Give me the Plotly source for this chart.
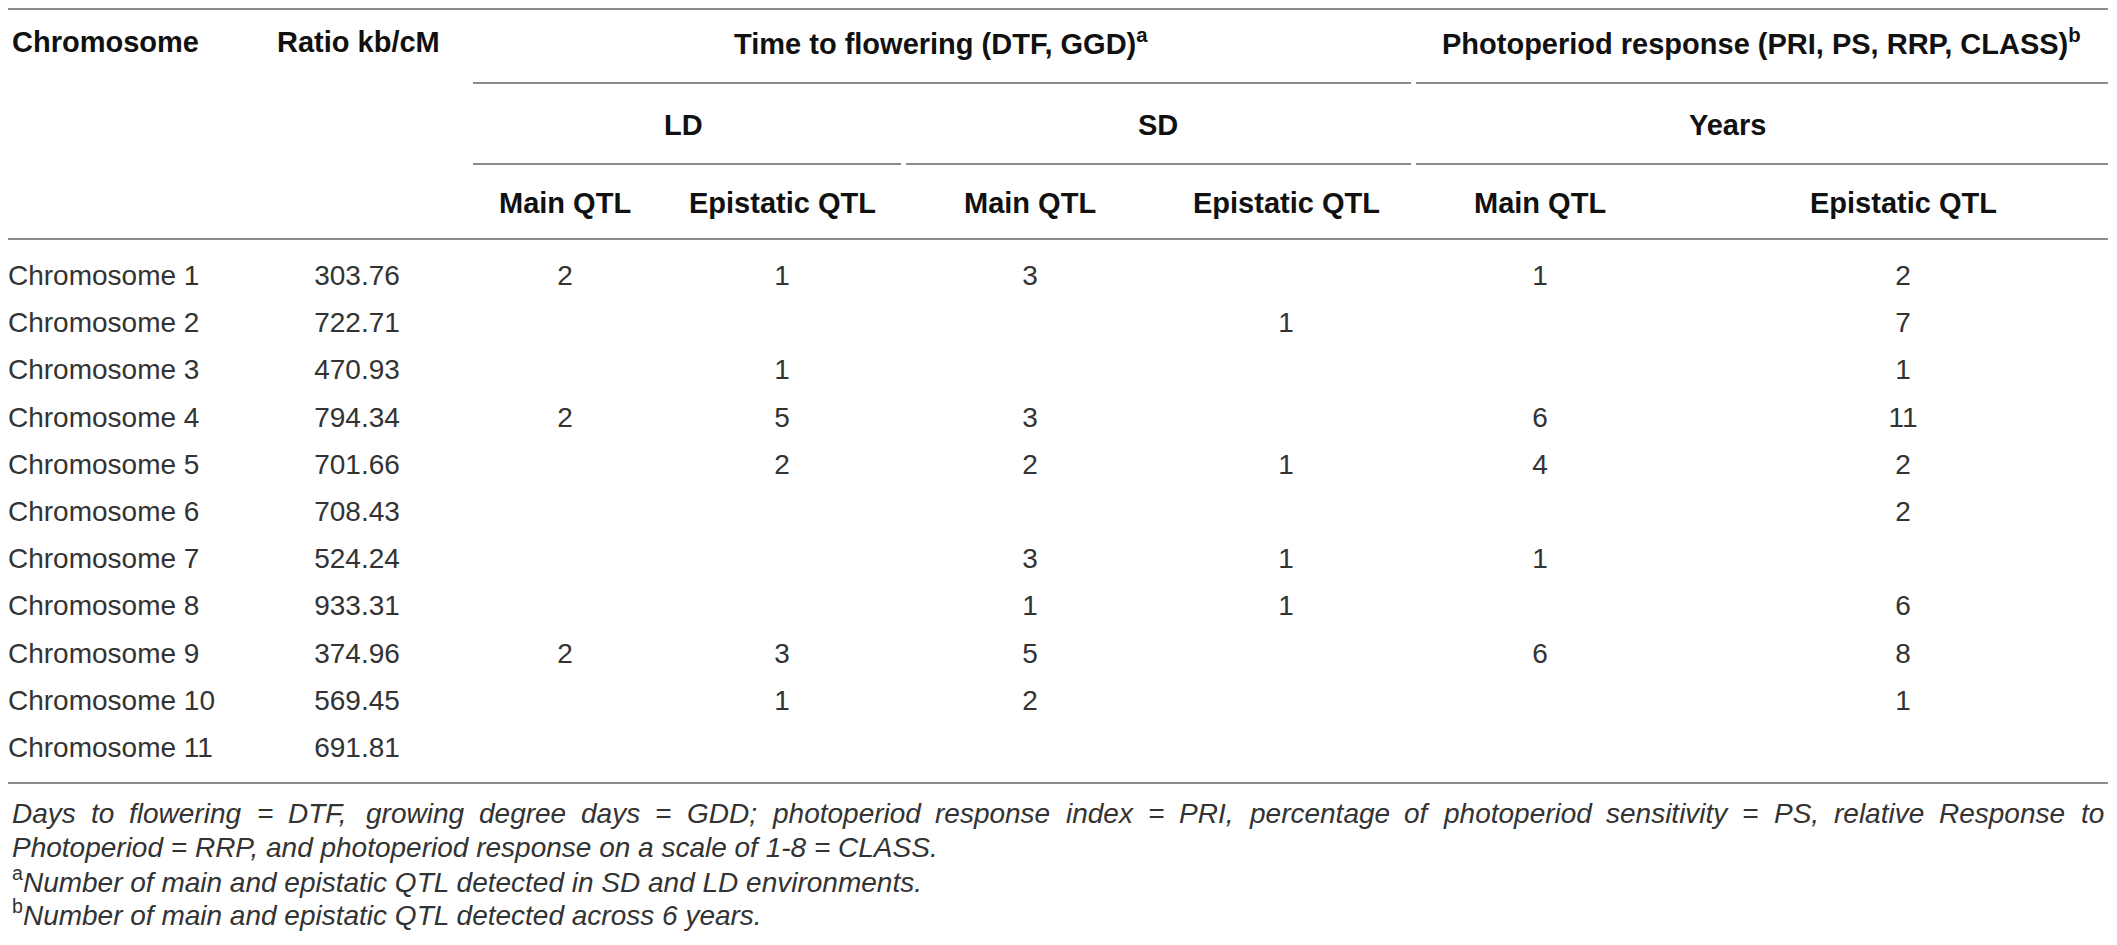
import plotly.graph_objects as go

# ---------------- data ----------------
chromosomes = ["Chromosome 1", "Chromosome 2", "Chromosome 3", "Chromosome 4",
               "Chromosome 5", "Chromosome 6", "Chromosome 7", "Chromosome 8",
               "Chromosome 9", "Chromosome 10", "Chromosome 11"]
ratio_kb_cm = [303.76, 722.71, 470.93, 794.34, 701.66, 708.43, 524.24, 933.31,
               374.96, 569.45, 691.81]
ld_main = [2, None, None, 2, None, None, None, None, 2, None, None]
ld_epistatic = [1, None, 1, 5, 2, None, None, None, 3, 1, None]
sd_main = [3, None, None, 3, 2, None, 3, 1, 5, 2, None]
sd_epistatic = [None, 1, None, None, 1, None, 1, 1, None, None, None]
years_main = [1, None, None, 6, 4, None, 1, None, 6, None, None]
years_epistatic = [2, 7, 1, 11, 2, 2, None, 6, 8, 1, None]

col_headers = ["Chromosome", "Ratio kb/cM"]
group_headers = ["Time to flowering (DTF, GGD)<sup>a</sup>",
                 "Photoperiod response (PRI, PS, RRP, CLASS)<sup>b</sup>"]
sub_headers = ["LD", "SD", "Years"]
leaf_headers = ["Main QTL", "Epistatic QTL", "Main QTL", "Epistatic QTL",
                "Main QTL", "Epistatic QTL"]
footnote_main = ("Days to flowering = DTF, growing degree days = GDD; photoperiod response "
                 "index = PRI, percentage of photoperiod sensitivity = PS, relative Response to")
footnote_main2 = "Photoperiod = RRP, and photoperiod response on a scale of 1-8 = CLASS."
footnote_a = "Number of main and epistatic QTL detected in SD and LD environments."
footnote_b = "Number of main and epistatic QTL detected across 6 years."

# ---------------- layout constants ----------------
W, H = 2117, 945
BODY_MARGIN = 8            # default page margin around the plot div
LEFT = 10
RIGHT = 2108
FONT = "Liberation Sans, Arial, Helvetica, sans-serif"
HEAD_SIZE = 29
BODY_SIZE = 28
NOTE_SIZE = 28
HEAD_COL = "#111111"
BODY_COL = "#333333"
LINE_COL = "#8c8c8c"

ROW0, ROW_STEP = 278, 47.2
row_y = [ROW0 + i * ROW_STEP for i in range(len(chromosomes))]

fig = go.Figure()

body_font = dict(family=FONT, size=BODY_SIZE, color=BODY_COL)

# chromosome names (left aligned)
fig.add_trace(go.Scatter(x=[LEFT - 2] * len(chromosomes), y=row_y, text=chromosomes,
                         mode="text", textposition="middle right",
                         textfont=body_font, hoverinfo="skip", cliponaxis=False))
# ratio
fig.add_trace(go.Scatter(x=[357] * len(ratio_kb_cm), y=row_y,
                         text=["%.2f" % v for v in ratio_kb_cm],
                         mode="text", textposition="middle center",
                         textfont=body_font, hoverinfo="skip"))

value_cols = [ld_main, ld_epistatic, sd_main, sd_epistatic, years_main, years_epistatic]
col_x = [565, 782, 1030, 1286, 1540, 1903]
for cx, vals in zip(col_x, value_cols):
    ys = [y for y, v in zip(row_y, vals) if v is not None]
    ts = [str(v) for v in vals if v is not None]
    fig.add_trace(go.Scatter(x=[cx] * len(ys), y=ys, text=ts,
                             mode="text", textposition="middle center",
                             textfont=body_font, hoverinfo="skip"))

annotations = []
def head(text, x, y, anchor="center"):
    annotations.append(dict(x=x, y=y, xref="x", yref="y", text="<b>%s</b>" % text,
                            showarrow=False, xanchor=anchor, yanchor="middle",
                            font=dict(family=FONT, size=HEAD_SIZE, color=HEAD_COL)))

head(col_headers[0], LEFT, 42, "left")
head(col_headers[1], 358, 42)
head(group_headers[0], 941, 42)
head(group_headers[1], 1761, 42)
for t, x in zip(sub_headers, [683, 1158, 1727]):
    head(t, x, 125)
for t, x in zip(leaf_headers, col_x):
    head(t, x, 203)

# ----- footnotes -----
AW = {' ': 278, 'a': 556, 'b': 556, 'c': 500, 'd': 556, 'e': 556, 'f': 278, 'g': 556,
      'h': 556, 'i': 222, 'j': 222, 'k': 500, 'l': 222, 'm': 833, 'n': 556, 'o': 556,
      'p': 556, 'q': 556, 'r': 333, 's': 500, 't': 278, 'u': 556, 'v': 500, 'w': 722,
      'x': 500, 'y': 500, 'z': 500, 'A': 667, 'B': 667, 'C': 722, 'D': 722, 'E': 667,
      'F': 611, 'G': 778, 'H': 722, 'I': 278, 'J': 500, 'K': 667, 'L': 556, 'M': 833,
      'N': 722, 'O': 778, 'P': 667, 'Q': 778, 'R': 722, 'S': 667, 'T': 611, 'U': 722,
      'V': 667, 'W': 944, 'X': 667, 'Y': 667, 'Z': 611, ',': 278, '.': 278, ';': 278,
      '=': 584, '-': 333, '(': 333, ')': 333}

def width(s, size):
    return sum(AW.get(c, 556) for c in s) * size / 1000.0

note_font = dict(family=FONT, size=NOTE_SIZE, color=BODY_COL)
words = footnote_main.split(" ")
ww = [width(w, NOTE_SIZE) for w in words]
x_start = LEFT
gap = (RIGHT - 6 - x_start - sum(ww)) / (len(words) - 1)
xcur = x_start
for w, wd in zip(words, ww):
    annotations.append(dict(x=xcur, y=813, xref="x", yref="y", text="<i>%s</i>" % w,
                            showarrow=False, xanchor="left", yanchor="middle",
                            font=note_font))
    xcur += wd + gap

for txt, y in [("<i>%s</i>" % footnote_main2, 847),
               ("<sup>a</sup><i>%s</i>" % footnote_a, 880),
               ("<sup>b</sup><i>%s</i>" % footnote_b, 913)]:
    annotations.append(dict(x=x_start, y=y, xref="x", yref="y", text=txt,
                            showarrow=False, xanchor="left", yanchor="middle",
                            font=note_font))

# ----- rules -----
rules = [(0, RIGHT, 9), (473, 1411, 83), (1416, RIGHT, 83),
         (473, 901, 164), (906, 1411, 164), (1416, RIGHT, 164),
         (0, RIGHT, 239), (0, RIGHT, 783)]
shapes = [dict(type="line", xref="x", yref="y", x0=a, x1=b, y0=y, y1=y,
               line=dict(color=LINE_COL, width=2)) for a, b, y in rules]

# axes mapped so that data units equal page pixels (page has an 8px body margin)
fig.update_layout(
    width=W - 2 * BODY_MARGIN, height=H - 2 * BODY_MARGIN,
    margin=dict(l=0, r=0, t=0, b=0),
    paper_bgcolor="white", plot_bgcolor="white", showlegend=False,
    xaxis=dict(range=[BODY_MARGIN, W - BODY_MARGIN], visible=False, fixedrange=True),
    yaxis=dict(range=[H - BODY_MARGIN, BODY_MARGIN], visible=False, fixedrange=True),
    annotations=annotations, shapes=shapes,
)

fig.write_html("out.html", config={"displayModeBar": False})
